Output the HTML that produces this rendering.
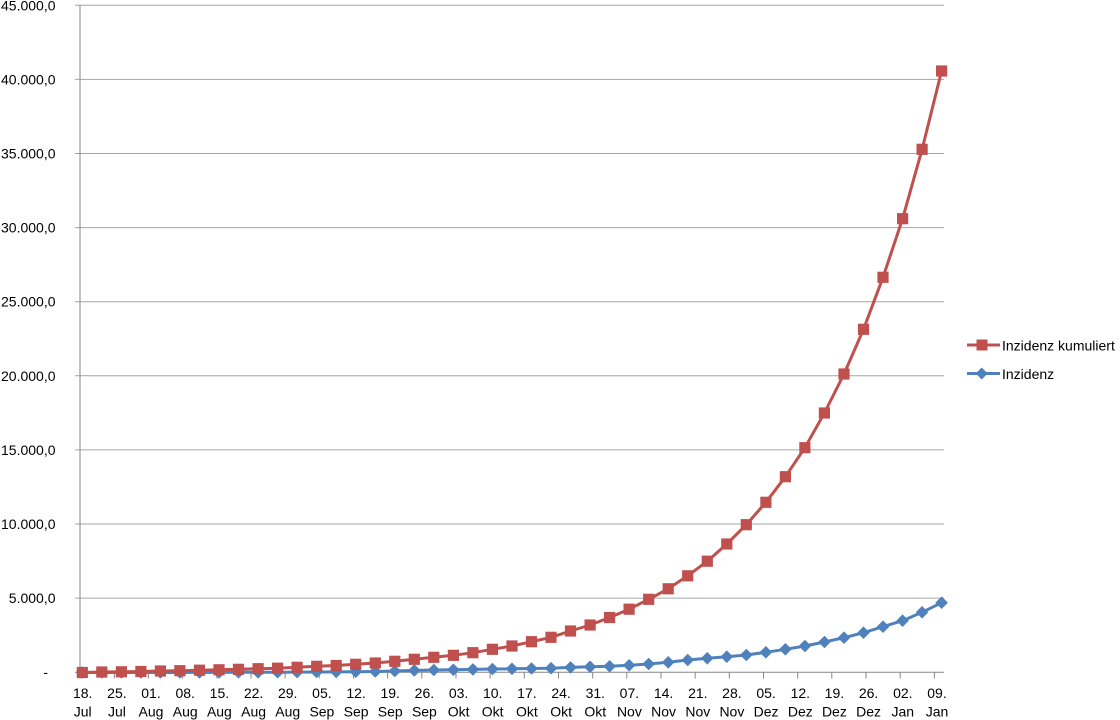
<!DOCTYPE html>
<html><head><meta charset="utf-8"><style>
html,body{margin:0;padding:0;background:#fff;}
svg{display:block;}
text{font-family:"Liberation Sans",Arial,sans-serif;font-size:14px;fill:#000;}
</style></head><body>
<svg id="c" width="1120" height="720" viewBox="0 0 1120 720" xmlns="http://www.w3.org/2000/svg">
<g id="grid" stroke="#a6a6a6" stroke-width="1"></g>
<g id="axes"></g>
<g id="ylab"></g>
<g id="xlab"></g>
<g id="series"></g>
<g id="legend">
  <line x1="967" y1="345" x2="1000" y2="345" stroke="#C0504D" stroke-width="3"/>
  <rect x="976.5" y="339.5" width="11" height="11" fill="#C0504D"/>
  <text x="1002" y="350.5">Inzidenz kumuliert</text>
  <line x1="967" y1="373.5" x2="1000" y2="373.5" stroke="#4F81BD" stroke-width="3"/>
  <polygon points="981.7,367.5 987.7,373.5 981.7,379.5 975.7,373.5" fill="#4F81BD"/>
  <text x="1002" y="379">Inzidenz</text>
</g>
</svg>
<script>
(function(){
var NS="http://www.w3.org/2000/svg";
function el(t,a,p,txt){var e=document.createElementNS(NS,t);for(var k in a)e.setAttribute(k,a[k]);if(txt!==undefined)e.textContent=txt;p.appendChild(e);return e;}
var grid=document.getElementById('grid'),axes=document.getElementById('axes'),ylab=document.getElementById('ylab'),xlab=document.getElementById('xlab'),ser=document.getElementById('series');
var y0=672.2,step=74.1;
var labs=["-","5.000,0","10.000,0","15.000,0","20.000,0","25.000,0","30.000,0","35.000,0","40.000,0","45.000,0"];
for(var k=0;k<=9;k++){
  var y=(y0-step*k);
  if(k>0){el('line',{x1:75,y1:y.toFixed(1),x2:944,y2:y.toFixed(1)},grid);}
  if(k==0){el('text',{x:48,y:(y+5).toFixed(1),'text-anchor':'end'},ylab,"-");}
  else{el('text',{x:55.5,y:(y+5).toFixed(1),'text-anchor':'end'},ylab,labs[k]);}
}
// axes
el('line',{x1:80,y1:5,x2:80,y2:672.5,stroke:'#868686','stroke-width':1},axes);
el('line',{x1:75,y1:672.2,x2:944,y2:672.2,stroke:'#868686','stroke-width':1},axes);
var xl=[["18.","Jul"],["25.","Jul"],["01.","Aug"],["08.","Aug"],["15.","Aug"],["22.","Aug"],["29.","Aug"],["05.","Sep"],["12.","Sep"],["19.","Sep"],["26.","Sep"],["03.","Okt"],["10.","Okt"],["17.","Okt"],["24.","Okt"],["31.","Okt"],["07.","Nov"],["14.","Nov"],["21.","Nov"],["28.","Nov"],["05.","Dez"],["12.","Dez"],["19.","Dez"],["26.","Dez"],["02.","Jan"],["09.","Jan"]];
for(var k=0;k<26;k++){
  var tx=80.1+34.17*k;
  el('line',{x1:tx.toFixed(1),y1:672,x2:tx.toFixed(1),y2:678.5,stroke:'#868686','stroke-width':1},axes);
  var cx=(82.7+34.17*k).toFixed(1);
  el('text',{x:cx,y:698,'text-anchor':'middle'},xlab,xl[k][0]);
  el('text',{x:cx,y:716.7,'text-anchor':'middle'},xlab,xl[k][1]);
}
var red=[672.5,672,671.8,671.5,671,670.7,670.2,669.8,669.3,668.7,668.2,667.3,666.3,665.5,664.3,663,661.3,659.3,657.3,655.3,652.7,649.3,646,641.7,637.3,631,625,617.5,609.2,599.3,588.8,575.8,561.2,544,524.7,502.3,476.7,447.7,413,374,329.3,277.3,218.7,149.3,71];
var blue=[672.5,672.5,672.5,672.5,672.5,672.5,672.4,672.4,672.3,672.3,672.2,672.1,672,671.9,671.7,671.5,671,670.4,670,669.8,669.4,669,668.8,668.5,668.2,667.4,666.8,666.3,665.3,664,662.3,660,658.3,656.7,655,652.3,649.3,646,642,637.7,632.7,626.7,620.7,612.3,602.7];
function X(i){return 82.3+19.53*i;}
var pb=[],pr=[];
for(var i=0;i<45;i++){pb.push(X(i).toFixed(1)+','+blue[i]);pr.push(X(i).toFixed(1)+','+red[i]);}
el('polyline',{points:pb.join(' '),fill:'none',stroke:'#4F81BD','stroke-width':3,'stroke-linejoin':'round'},ser);
for(var i=0;i<45;i++){var x=X(i),y=blue[i];
  el('polygon',{points:[x+','+(y-6.3),(x+6.3)+','+y,x+','+(y+6.3),(x-6.3)+','+y].join(' '),fill:'#4F81BD'},ser);}
el('polyline',{points:pr.join(' '),fill:'none',stroke:'#C0504D','stroke-width':3,'stroke-linejoin':'round'},ser);
for(var i=0;i<45;i++){var x=X(i),y=red[i];
  el('rect',{x:(x-5.6).toFixed(1),y:(y-5.6).toFixed(1),width:11.2,height:11.2,fill:'#C0504D'},ser);}
})();
</script>
</body></html>
